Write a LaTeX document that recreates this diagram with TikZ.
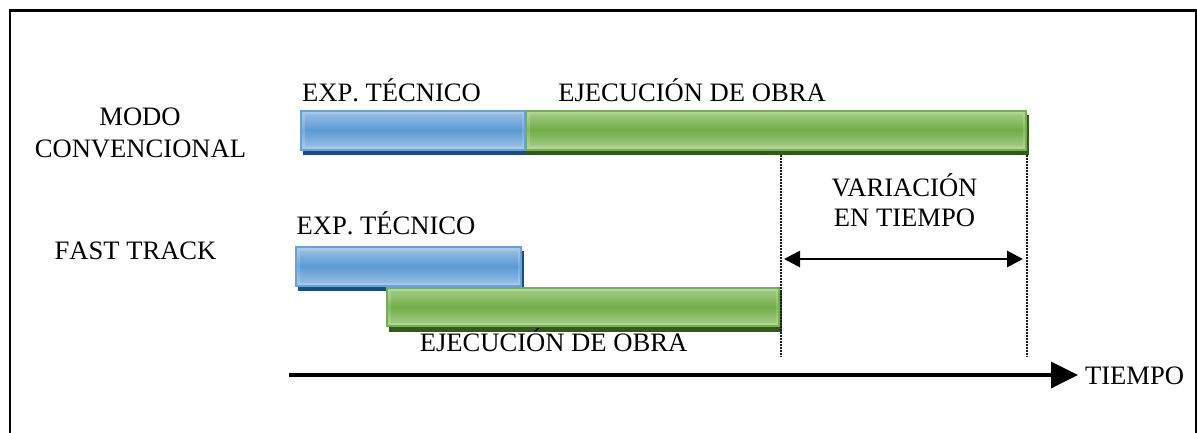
\documentclass[tikz,border=0pt]{standalone}
\usepackage{fontspec}
\setmainfont{Liberation Serif}
\newfontfamily\plainserif[Kerning=Off]{Liberation Serif}
\usetikzlibrary{arrows.meta}
\definecolor{bluetop}{HTML}{9DC3E6}
\definecolor{bluemid}{HTML}{5B9BD5}
\definecolor{blueedge}{HTML}{66A3DA}
\definecolor{blueshade}{HTML}{1F4E79}
\definecolor{greentop}{HTML}{A9D18E}
\definecolor{greenmid}{HTML}{70AD47}
\definecolor{greenedge}{HTML}{74B04C}
\definecolor{greenshade}{HTML}{385723}
\tikzset{
  x=1pt,y=-1pt,
  lbl/.style={font=\fontsize{26.6}{30}\selectfont,inner sep=0pt,anchor=base,text=black},
  lblplain/.style={lbl,font=\plainserif\fontsize{26.6}{30}\selectfont},
  bevel/.style={path picture={\draw[white,opacity=.16,line width=7pt] (path picture bounding box.south west) rectangle (path picture bounding box.north east);}},
  bluebar/.style={draw=blueedge,line width=2pt,inner sep=0pt,top color=bluetop,bottom color=bluetop,middle color=bluemid,bevel},
  greenbar/.style={draw=greenedge,line width=2pt,inner sep=0pt,top color=greentop,bottom color=greentop,middle color=greenmid,bevel},
  blueback/.style={fill=blueshade,draw=none,inner sep=0pt,outer sep=0pt},
  greenback/.style={fill=greenshade,draw=none,inner sep=0pt,outer sep=0pt},
  guide/.style={line width=1.5pt,dash pattern=on 1.5pt off 1.5pt,black!90},
  span/.style={line width=2.8pt,{Triangle[length=16pt,width=16pt]}-{Triangle[length=16pt,width=16pt]}},
  axisline/.style={line width=3.6pt,-{Triangle[length=27pt,width=26pt]}},
}
\begin{document}
\begin{tikzpicture}
\useasboundingbox (0,0) rectangle (1197,432);
\fill[white] (0,0) rectangle (1197,432);
% frame
\coordinate (fa) at (10,10.5);
\coordinate (fb) at (1196,445);
\draw[line width=2.2pt,black] (fa) rectangle (fb);
% shadows
\node[blueback,minimum width=226pt,minimum height=40pt] (s1) at (416,135) {};
\node[greenback,minimum width=504pt,minimum height=40pt] (s2) at (777,135) {};
\node[blueback,minimum width=226pt,minimum height=40pt] (s3) at (411,271) {};
\node[greenback,minimum width=393pt,minimum height=40pt] (s4) at (585.5,312) {};
% bars
\node[bluebar,minimum width=224pt,minimum height=39pt] (b1) at (413,130) {};
\node[greenbar,minimum width=500pt,minimum height=39pt] (g1) at (776,130) {};
\node[bluebar,minimum width=225pt,minimum height=39pt] (b2) at (408.5,266.5) {};
\node[greenbar,minimum width=392pt,minimum height=38.5pt] (g2) at (583,307) {};
% labels
\node[lblplain] (t1) at (391.5,101.7) {EXP. TÉCNICO};
\node[lbl] (t2) at (692,101.7) {EJECUCIÓN DE OBRA};
\node[lblplain] (t3) at (386,234) {EXP. TÉCNICO};
\node[lbl] (t4) at (553.5,351.7) {EJECUCIÓN DE OBRA};
\node[lbl] (t5) at (140,125.7) {MODO};
\node[lbl] (t6) at (140.5,157.7) {CONVENCIONAL};
\node[lblplain] (t7) at (135.5,259) {FAST TRACK};
\node[lbl] (t8) at (904.5,196) {VARIACIÓN};
\node[lbl] (t9) at (904.5,226.7) {EN TIEMPO};
\node[lbl] (t10) at (1134.5,384) {TIEMPO};
% guides
\coordinate (d1a) at (781,155);
\coordinate (d1b) at (781,357);
\coordinate (d2a) at (1027,155);
\coordinate (d2b) at (1027,357);
\draw[guide] (d1a) -- (d1b);
\draw[guide] (d2a) -- (d2b);
% arrows
\coordinate (v1) at (784,259);
\coordinate (v2) at (1023,259);
\draw[span] (v1) -- (v2);
\coordinate (a1) at (289,375);
\coordinate (a2) at (1078,375);
\draw[axisline] (a1) -- (a2);
\end{tikzpicture}
\end{document}
